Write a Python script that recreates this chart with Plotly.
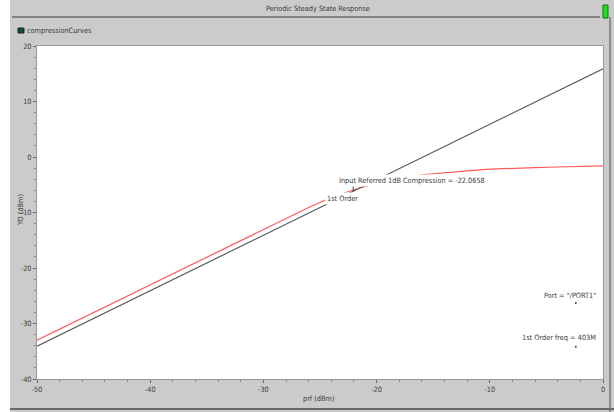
import plotly.graph_objects as go

# ---- data ----
prf_gray = [-50, 0]
yo_gray = [-34.1, 15.9]          # 1st order extrapolation line

prf_red = [-50, -40, -30, -26, -24, -22, -20, -18, -16, -14, -12, -10, -8, -6, -4, -2, 0]
yo_red = [-33.0, -23.0, -13.0, -9.1, -7.3, -5.9, -4.7, -3.8, -3.2, -2.8, -2.5, -2.2, -2.0, -1.9, -1.8, -1.7, -1.6]

comp_x = -22.0658
comp_y = [-6.2, -4.6]

x_ticks = [-50, -40, -30, -20, -10, 0]
x_labels = ["-50", "-40", "-30", "-20", "-10", "0"]
y_ticks = [-40, -30, -20, -10, 0, 10, 20]
y_labels = ["-40", "-30", "-20", "-10", "0", "10", "20"]

FONT = "Liberation Sans Narrow, DejaVu Sans Condensed, Liberation Sans, sans-serif"
TXT = "#3a3a3a"
BG = "#cbcbcb"
FS = 7.3

fig = go.Figure()
fig.add_trace(go.Scatter(x=prf_red, y=yo_red, mode="lines",
                         line=dict(color="#ff5a5a", width=1.2), showlegend=False))
fig.add_trace(go.Scatter(x=prf_gray, y=yo_gray, mode="lines",
                         line=dict(color="#5a5a5a", width=1.2), showlegend=False))
fig.add_trace(go.Scatter(x=[comp_x, comp_x], y=comp_y, mode="lines",
                         line=dict(color="#444", width=1), showlegend=False))
fig.add_trace(go.Scatter(x=[-2.4, -2.4], y=[-26.3, -34.2], mode="markers",
                         marker=dict(color="#444", size=2), showlegend=False))

fig.update_layout(
    width=614, height=412,
    margin=dict(l=37, r=11, t=46, b=33),
    paper_bgcolor=BG, plot_bgcolor="white",
    font=dict(family=FONT, size=FS, color=TXT),
    showlegend=False,
)
fig.update_xaxes(range=[-50, 0], tickmode="array", tickvals=x_ticks, ticktext=x_labels,
                 ticks="outside", ticklen=3, automargin=False,
                 tickcolor="#666", showgrid=False, zeroline=False,
                 showline=True, linecolor="#9a9a9a", mirror=True,
                 minor=dict(dtick=2, ticks="outside", ticklen=2, tickcolor="#888"),
                 tickfont=dict(size=FS, color=TXT))
fig.update_yaxes(range=[-40, 20], tickmode="array", tickvals=y_ticks, ticktext=y_labels,
                 ticks="outside", ticklen=3, automargin=False,
                 tickcolor="#666", showgrid=False, zeroline=False,
                 showline=True, linecolor="#9a9a9a", mirror=True,
                 minor=dict(dtick=2, ticks="outside", ticklen=2, tickcolor="#888"),
                 tickfont=dict(size=FS, color=TXT))

# axis titles
fig.add_annotation(xref="paper", yref="paper", x=(318 - 37) / 566, y=-19 / 333,
                   text="prf (dBm)", showarrow=False, xanchor="center", yanchor="middle",
                   font=dict(size=FS, color=TXT))
fig.add_annotation(xref="paper", yref="paper", x=(20 - 37) / 566, y=(379 - 210) / 333,
                   text="YO (dBm)", showarrow=False, textangle=-90,
                   xanchor="center", yanchor="middle", font=dict(size=FS, color=TXT))

# text labels with white backgrounds (they hide parts of the curves)
fig.add_annotation(x=-23.5, y=-4.3, text="Input Referred 1dB Compression = -22.0658",
                   showarrow=False, xanchor="left", yanchor="middle",
                   bgcolor="white", borderpad=1, font=dict(size=FS, color=TXT))
fig.add_annotation(x=-24.6, y=-7.4, text="1st Order",
                   showarrow=False, xanchor="left", yanchor="middle",
                   bgcolor="white", borderpad=1, font=dict(size=FS, color=TXT))
fig.add_annotation(x=-0.4, y=-24.9, text='Port = "/PORT1"',
                   showarrow=False, xanchor="right", yanchor="middle",
                   font=dict(size=FS, color=TXT))
fig.add_annotation(x=-0.4, y=-32.6, text="1st Order freq = 403M",
                   showarrow=False, xanchor="right", yanchor="middle",
                   font=dict(size=FS, color=TXT))

# window chrome
fig.add_shape(type="rect", xref="paper", yref="paper", x0=-37/566, x1=-27/566,
              y0=-33/333, y1=(333+46)/333, fillcolor="white", line_width=0, layer="below")
fig.add_shape(type="line", xref="paper", yref="paper", x0=-25/566, x1=563/566,
              y0=(333+29)/333, y1=(333+29)/333, line=dict(color="#6a6a6a", width=1.5))
fig.add_shape(type="line", xref="paper", yref="paper", x0=573/566, x1=573/566,
              y0=-33/333, y1=(333+29)/333, line=dict(color="#8a8a8a", width=2))
fig.add_shape(type="line", xref="paper", yref="paper", x0=-27/566, x1=577/566,
              y0=-30/333, y1=-30/333, line=dict(color="#6a6a6a", width=2))
fig.add_shape(type="rect", xref="paper", yref="paper", x0=566/566, x1=571/566,
              y0=(333+28)/333, y1=(333+41)/333, fillcolor="#22dd22",
              line=dict(color="#117711", width=1))
fig.add_shape(type="rect", xref="paper", yref="paper", x0=-19/566, x1=-13/566,
              y0=(333+13)/333, y1=(333+18)/333, fillcolor="#0d4d4d",
              line=dict(color="#222", width=1))
fig.add_annotation(xref="paper", yref="paper", x=(318-37)/566, y=(333+37)/333,
                   text="Periodic Steady State Response", showarrow=False,
                   xanchor="center", yanchor="middle", font=dict(size=FS, color=TXT))
fig.add_annotation(xref="paper", yref="paper", x=-12/566, y=(333+15.5)/333,
                   text="compressionCurves", showarrow=False,
                   xanchor="left", yanchor="middle", font=dict(size=FS, color=TXT))

fig.write_html("out.html")
